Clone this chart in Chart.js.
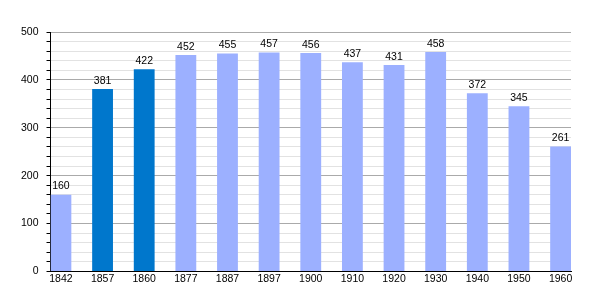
<!DOCTYPE html>
<html>
<head>
<meta charset="utf-8">
<script src="https://cdn.jsdelivr.net/npm/chart.js@4"></script>
<style>
  html, body { margin: 0; padding: 0; background: #fff; }
  #wrap { width: 600px; height: 300px; }
</style>
</head>
<body>
<div id="wrap"><canvas id="chart"></canvas></div>
<script>
// 年ごとの人口
const years = ['1842', '1857', '1860', '1877', '1887', '1897', '1900', '1910', '1920', '1930', '1940', '1950', '1960'];
const population = [160, 381, 422, 452, 455, 457, 456, 437, 431, 458, 372, 345, 261];
// 濃い色で描く年
const highlightYears = ['1857', '1860'];

const lightBlue = '#9cb0ff';
const darkBlue = '#0077cc';
const fontFamily = '"Liberation Sans", Arial, sans-serif';

// 棒の上に値を描く
const valueLabels = {
  id: 'valueLabels',
  afterDatasetsDraw(chart) {
    const ctx = chart.ctx;
    const meta = chart.getDatasetMeta(0);
    ctx.save();
    ctx.font = '10.5px ' + fontFamily;
    ctx.fillStyle = '#000';
    ctx.textAlign = 'center';
    ctx.textBaseline = 'bottom';
    meta.data.forEach((bar, i) => {
      ctx.fillText(String(population[i]), bar.x, bar.y - 3);
    });
    ctx.restore();
  }
};

new Chart(document.getElementById('chart'), {
  type: 'bar',
  data: {
    datasets: [{
      data: population.map((v, i) => ({ x: i, y: v })),
      backgroundColor: years.map(y => highlightYears.includes(y) ? darkBlue : lightBlue),
      borderWidth: 0,
      barPercentage: 0.5,
      categoryPercentage: 1
    }]
  },
  options: {
    responsive: true,
    maintainAspectRatio: false,
    animation: false,
    layout: { padding: { top: 32, right: 29, left: 13, bottom: 14 } },
    plugins: { legend: { display: false }, tooltip: { enabled: false } },
    scales: {
      x: {
        type: 'linear',
        offset: false,
        min: -0.25,
        max: 12.25,
        afterBuildTicks(axis) {
          axis.ticks = years.map((_, i) => ({ value: i }));
        },
        ticks: {
          autoSkip: false,
          maxRotation: 0,
          padding: 1,
          color: '#000',
          font: { family: fontFamily, size: 10.5 },
          callback: (v) => years[v]
        },
        grid: { display: false, drawTicks: false },
        border: { color: '#000', width: 1 }
      },
      y: {
        min: 0,
        max: 500,
        ticks: {
          stepSize: 20,
          autoSkip: false,
          padding: 8,
          color: '#000',
          font: { family: fontFamily, size: 10.5 },
          callback: (v) => v % 100 === 0 ? String(v) : ''
        },
        grid: {
          color: (c) => c.tick && c.tick.value % 100 === 0 ? '#aaaaaa' : '#e2e2e2',
          tickColor: '#000',
          tickLength: 4
        },
        border: { color: '#000', width: 1 }
      }
    }
  },
  plugins: [valueLabels]
});
</script>
</body>
</html>
